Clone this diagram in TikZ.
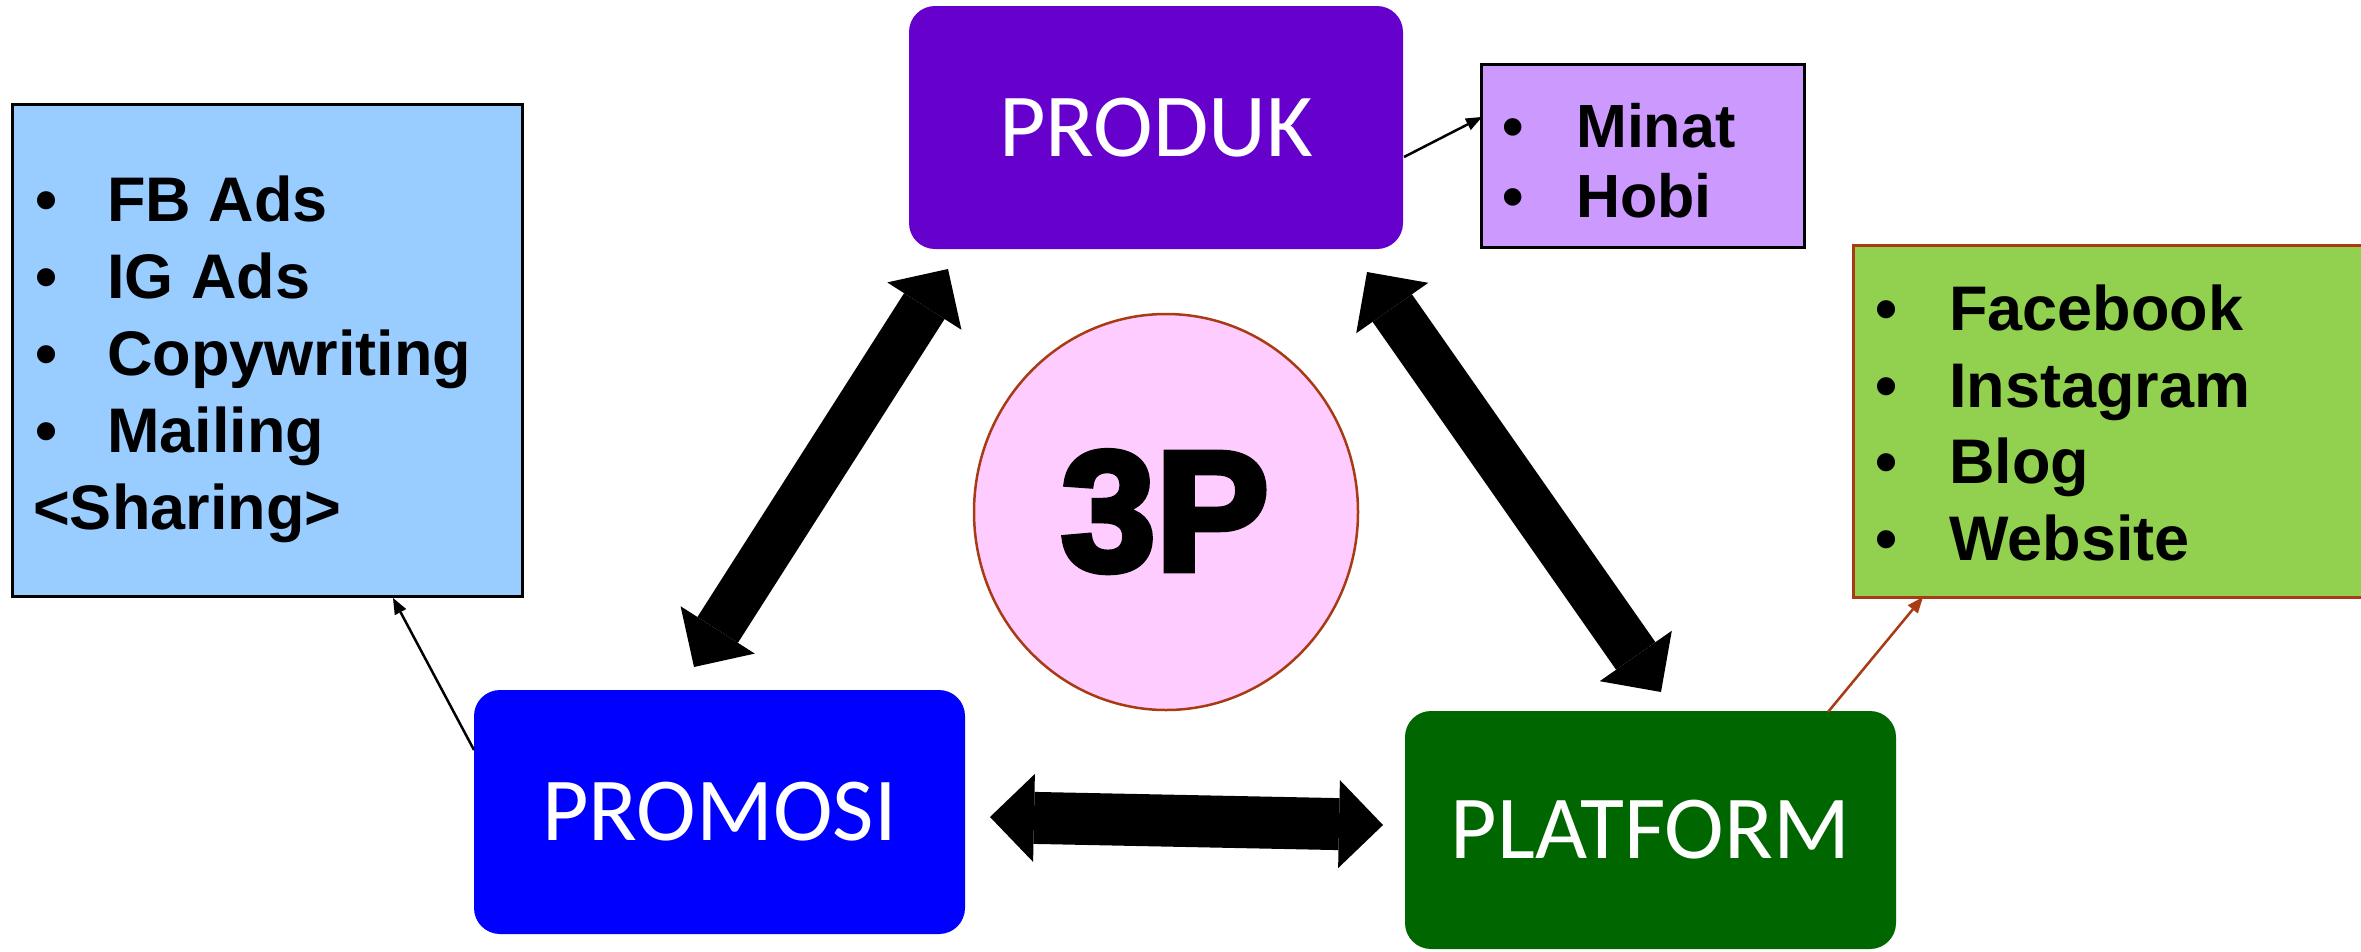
\documentclass[tikz,border=0pt]{standalone}
\usepackage{fontspec}
\setmainfont{Liberation Sans}
\newfontfamily\titlefont{Carlito}
\newfontfamily\heavyfont[FakeBold=4]{Liberation Sans Bold}
\usetikzlibrary{arrows.meta,shapes.geometric}
\definecolor{cprod}{HTML}{6600CC}
\definecolor{cminat}{HTML}{CC99FF}
\definecolor{cblue}{HTML}{99CCFF}
\definecolor{cgreen}{HTML}{92D050}
\definecolor{cpromo}{HTML}{0000FF}
\definecolor{cplat}{HTML}{006600}
\definecolor{cpink}{HTML}{FFCCFF}
\definecolor{cbrown}{HTML}{A83A14}
\tikzset{
  mainbox/.style={rectangle, rounded corners=26pt, inner sep=0pt, text=white,
    font=\titlefont\fontsize{90}{100}\selectfont},
  listbox/.style={rectangle, line width=3pt, inner sep=0pt},
  listline/.style={anchor=base west, inner sep=0pt, font=\bfseries\fontsize{63}{75}\selectfont},
  smallline/.style={anchor=base west, inner sep=0pt, font=\bfseries\fontsize{61}{70}\selectfont},
  bigarrow/.style={line width=#1, {Triangle[length=44pt,width=88pt,line width=0pt]}-{Triangle[length=44pt,width=88pt,line width=0pt]}},
  thinarrow/.style={line width=2.5pt, -{Triangle[length=16pt,width=13pt,line width=0pt]}}
}
\newcommand{\bl}[1]{\makebox[#1][l]{\textbullet}}
\begin{document}
\begin{tikzpicture}[x=1pt,y=-1pt]
\clip (0,0) rectangle (2361,951);
\fill[white] (0,0) rectangle (2361,951);

% boxes
\node[mainbox, fill=cprod, minimum width=494pt, minimum height=243pt] (produk) at (1156,127.5) {PRODUK};
\node[mainbox, fill=cpromo, minimum width=491pt, minimum height=244pt] (promosi) at (719.5,812) {PROMOSI};
\node[mainbox, fill=cplat, minimum width=491pt, minimum height=238pt] (platform) at (1650.5,830) {PLATFORM};

\node[listbox, draw=black, fill=cminat, minimum width=323pt, minimum height=183pt] (minatbox) at (1642.5,155.5) {};
\node[listbox, draw=black, fill=cblue, minimum width=510pt, minimum height=492pt] (promobox) at (267,350) {};
\node[listbox, draw=cbrown, fill=cgreen, minimum width=527pt, minimum height=352pt] (platbox) at (2116.5,421) {};

\node[ellipse, draw=cbrown, line width=2.5pt, fill=cpink, minimum width=384pt, minimum height=396pt, inner sep=0pt] (center) at (1166,512) {};
\node[anchor=base, inner sep=0pt, font=\heavyfont\fontsize{170}{180}\selectfont] (threep) at (1165,570) {3P};

% list texts
\node[listline] (pl1) at (35,221) {\bl{72pt}FB Ads};
\node[listline] (pl2) at (35,298) {\bl{72pt}IG Ads};
\node[listline] (pl3) at (35,375) {\bl{72pt}Copywriting};
\node[listline] (pl4) at (35,452) {\bl{72pt}Mailing};
\node[listline] (pl5) at (33,529) {<Sharing>};

\node[smallline] (ml1) at (1502,147) {\bl{74pt}Minat};
\node[smallline] (ml2) at (1502,217) {\bl{74pt}Hobi};

\node[listline] (gl1) at (1875,330) {\bl{74pt}Facebook};
\node[listline] (gl2) at (1875,407) {\bl{74pt}Instagram};
\node[listline] (gl3) at (1875,483) {\bl{74pt}Blog};
\node[listline] (gl4) at (1875,560) {\bl{74pt}Website};

% connector coordinates
\coordinate (ad1) at (694,667);
\coordinate (ad2) at (948,269);
\coordinate (bd1) at (1367,272);
\coordinate (bd2) at (1661,692);
\coordinate (hd1) at (990,817);
\coordinate (hd2) at (1383,825);

\coordinate (pk) at (1404,157);
\coordinate (mb) at (1482,117);
\coordinate (pm) at (474,750);
\coordinate (pb) at (393,598);
\coordinate (pf) at (1828,712);
\coordinate (gb) at (1923,597);

% big double arrows
\draw[bigarrow=48pt] (ad1) -- (ad2);
\draw[bigarrow=48pt] (bd1) -- (bd2);
\draw[bigarrow=52pt] (hd1) -- (hd2);

% thin arrows
\draw[thinarrow, black] (pk) -- (mb);
\draw[thinarrow, black] (pm) -- (pb);
\draw[thinarrow, cbrown] (pf) -- (gb);
\end{tikzpicture}
\end{document}
